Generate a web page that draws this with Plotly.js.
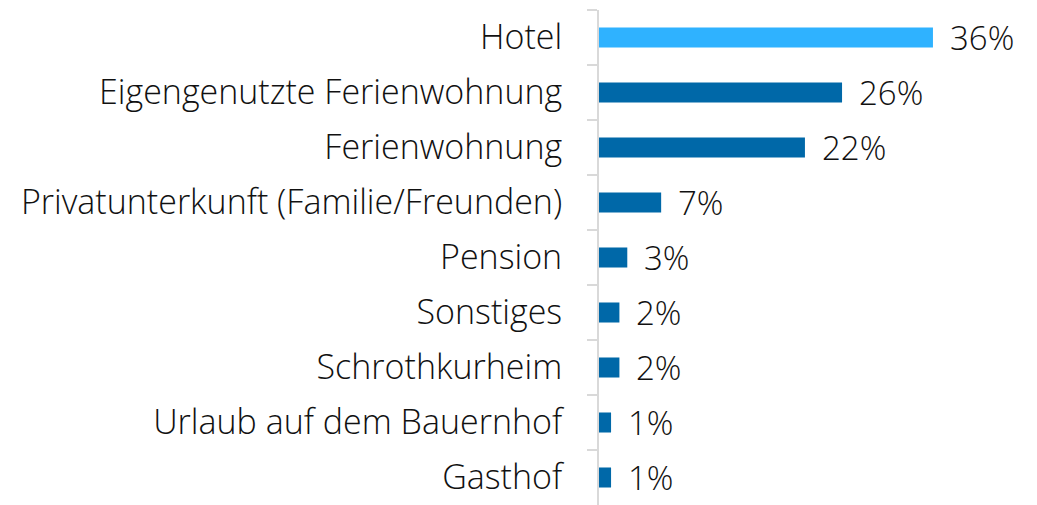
<!DOCTYPE html>
<html><head><meta charset="utf-8">
<script src="https://cdn.plot.ly/plotly-3.0.1.min.js"></script>
<style>html,body{margin:0;padding:0;background:#fff}#c{width:1037px;height:505px}</style>
</head><body><div id="c"></div>
<script>
const categories = ["Hotel","Eigengenutzte Ferienwohnung","Ferienwohnung","Privatunterkunft (Familie/Freunden)","Pension","Sonstiges","Schrothkurheim","Urlaub auf dem Bauernhof","Gasthof"];
const values = [36.0, 26.2, 22.2, 6.7, 3.05, 2.2, 2.2, 1.3, 1.3];
const valueLabels = ["36%","26%","22%","7%","3%","2%","2%","1%","1%"];
const barColors = ["#2FB2FF","#0068A8","#0068A8","#0068A8","#0068A8","#0068A8","#0068A8","#0068A8","#0068A8"];

const FONT = "'Open Sans', sans-serif";
const trace = {
  type: "bar", orientation: "h",
  x: values, y: categories,
  marker: {color: barColors},
  hoverinfo: "skip"
};
const annotations = categories.map((c, i) => ({
  x: values[i], y: c, xref: "x", yref: "y",
  text: valueLabels[i], showarrow: false,
  xanchor: "left", yanchor: "middle", xshift: 15,
  font: {family: FONT, size: 33, weight: 300, color: "#111"}
}));
const layout = {
  width: 1037, height: 505,
  margin: {l: 599, r: 2, t: 10, b: 0},
  paper_bgcolor: "#fff", plot_bgcolor: "#fff",
  showlegend: false,
  bargap: 0.636,
  xaxis: {range: [0, 47], visible: false, showgrid: false, zeroline: false},
  yaxis: {
    type: "category", autorange: "reversed",
    showline: true, linecolor: "#D9D9D9", linewidth: 2,
    ticks: "outside", tickson: "boundaries", ticklen: 10, tickcolor: "#D9D9D9", tickwidth: 2,
    ticklabelstandoff: 28,
    showgrid: false, zeroline: false,
    tickfont: {family: FONT, size: 34, weight: 300, color: "#111"}
  },
  annotations: annotations
};
Plotly.newPlot("c", [trace], layout, {staticPlot: true, displayModeBar: false});
</script>
</body></html>
